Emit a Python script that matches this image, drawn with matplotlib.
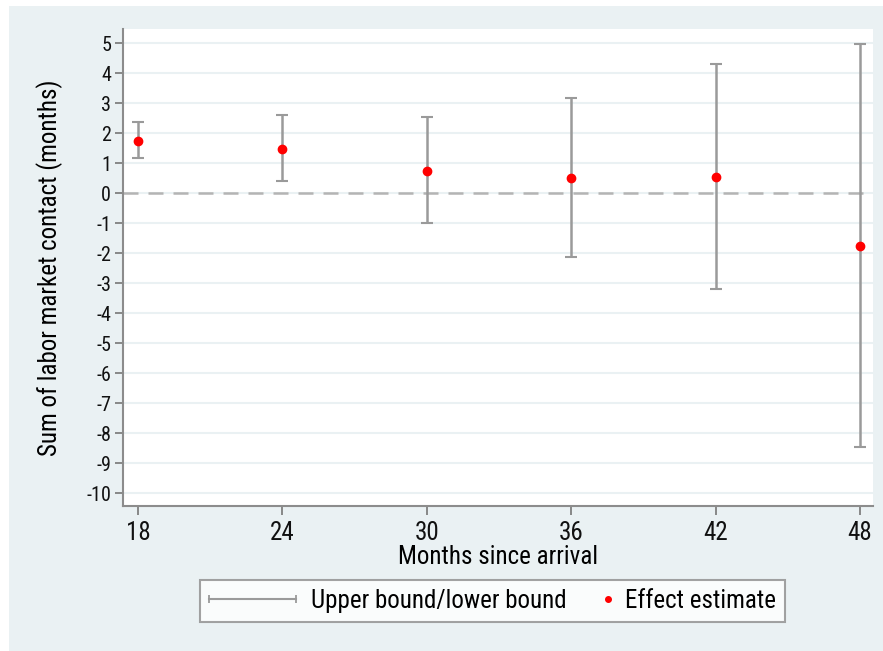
import matplotlib
matplotlib.use("Agg")
import matplotlib.pyplot as plt
from matplotlib.lines import Line2D
from matplotlib.legend_handler import HandlerBase
from matplotlib.patches import Rectangle

months = [18, 24, 30, 36, 42, 48]
estimate = [1.74, 1.48, 0.74, 0.50, 0.54, -1.77]
upper = [2.36, 2.61, 2.55, 3.18, 4.30, 4.97]
lower = [1.16, 0.40, -1.00, -2.13, -3.20, -8.46]
yticks = list(range(-10, 6))

plt.rcParams['font.family'] = ['Roboto Condensed', 'Liberation Sans', 'DejaVu Sans']
plt.rcParams['axes.unicode_minus'] = False

bg = '#eaf1f3'
bar_col = '#9a9a9a'
dot_col = '#ff0000'


# legend key for the bounds: a line with a small cap at each end
class CapLineHandler(HandlerBase):
    def create_artists(self, legend, orig_handle, xdescent, ydescent, width, height, fontsize, trans):
        y = height / 2 - ydescent
        ln = Line2D([-xdescent, width - xdescent], [y, y], color=bar_col, lw=1.5,
                    marker='|', ms=6, mew=1.3)
        ln.set_transform(trans)
        return [ln]


# legend key for the estimate: a small dot at the right end of the key
class RightDotHandler(HandlerBase):
    def create_artists(self, legend, orig_handle, xdescent, ydescent, width, height, fontsize, trans):
        ln = Line2D([width - xdescent - 1.5], [height / 2 - ydescent], color=dot_col,
                    marker='o', ms=4, ls='none')
        ln.set_transform(trans)
        return [ln]


fig = plt.figure(figsize=(8.83, 6.51), dpi=100)
fig.patch.set_facecolor('white')
fig.patches.append(Rectangle((9 / 883, 0), 1, 1 - 6 / 651, transform=fig.transFigure,
                             facecolor=bg, edgecolor='none', zorder=-10))

ax = fig.add_axes([123 / 883, 1 - 506 / 651, 750 / 883, 477 / 651])
ax.set_facecolor('white')

for y in yticks:
    ax.axhline(y, color=bg, lw=1.5, zorder=0)
ax.axhline(0, color='#b4b4b4', lw=1.8, ls=(0, (6, 4)), zorder=1)

yerr = [[e - l for e, l in zip(estimate, lower)], [u - e for u, e in zip(upper, estimate)]]
ax.errorbar(months, estimate, yerr=yerr, fmt='none', ecolor=bar_col, elinewidth=1.8,
            capsize=4.3, capthick=1.5, zorder=2)
ax.plot(months, estimate, 'o', color=dot_col, ms=6, zorder=3)

ax.set_xlim(17.38, 48.54)
ax.set_ylim(-10.43, 5.47)
ax.set_xticks(months)
ax.set_yticks(yticks)
ax.tick_params(axis='both', colors='#7f7f7f', width=1.3, labelcolor='#111111')
ax.tick_params(axis='x', length=6.5, pad=4, labelsize=18)
ax.tick_params(axis='y', length=6, pad=2.5, labelsize=14.5)
for s in ['top', 'right']:
    ax.spines[s].set_visible(False)
for s in ['left', 'bottom']:
    ax.spines[s].set_color('#8c8c8c')
    ax.spines[s].set_linewidth(1.5)

ax.set_xlabel('Months since arrival', fontsize=18, labelpad=0)
ax.set_ylabel('Sum of labor market contact (months)', fontsize=18, labelpad=17)

h1 = Line2D([], [])
h2 = Line2D([], [])
leg = fig.legend([h1, h2], ['Upper bound/lower bound', 'Effect estimate'],
                 loc='center', bbox_to_anchor=(492.5 / 883, 1 - 601 / 651),
                 ncol=2, fontsize=18, frameon=True, fancybox=False,
                 handlelength=3.48, handletextpad=0.6, columnspacing=-1.76,
                 borderpad=0.35, handler_map={h1: CapLineHandler(), h2: RightDotHandler()})
leg.get_frame().set_edgecolor('#8c8c8c')
leg.get_frame().set_linewidth(1.5)
leg.get_frame().set_facecolor('white')

fig.savefig('out.png', dpi=100, facecolor=fig.get_facecolor())
